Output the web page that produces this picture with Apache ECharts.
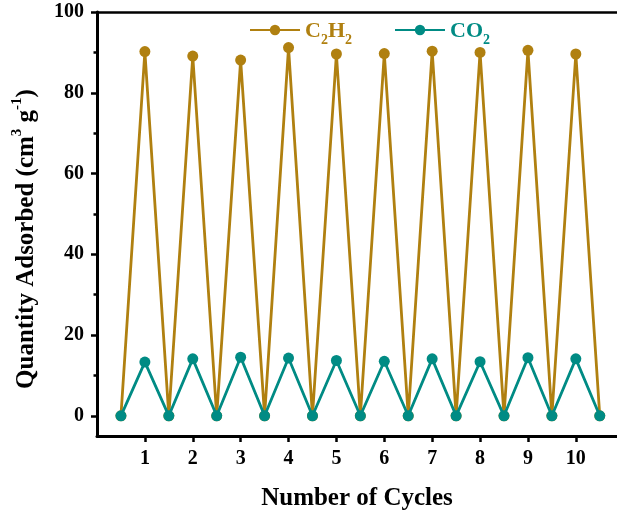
<!DOCTYPE html>
<html>
<head>
<meta charset="utf-8">
<script src="https://cdn.jsdelivr.net/npm/echarts@6/dist/echarts.min.js"></script>
<style>
html,body{margin:0;padding:0;background:#fff;}
#chart{width:617px;height:517px;}
</style>
</head>
<body>
<div id="chart"></div>
<script>
// Data
var cycleX = [0.5, 1, 1.5, 2, 2.5, 3, 3.5, 4, 4.5, 5, 5.5, 6, 6.5, 7, 7.5, 8, 8.5, 9, 9.5, 10, 10.5];
var c2h2 = [0, 90.2, 0, 89.1, 0, 88.1, 0, 91.2, 0, 89.6, 0, 89.7, 0, 90.3, 0, 90.0, 0, 90.5, 0, 89.6, 0];
var co2 = [0, 13.3, 0, 14.1, 0, 14.5, 0, 14.3, 0, 13.7, 0, 13.5, 0, 14.1, 0, 13.4, 0, 14.4, 0, 14.1, 0];
var xTicks = [1, 2, 3, 4, 5, 6, 7, 8, 9, 10];
var yTicks = [0, 20, 40, 60, 80, 100];
var yMinorTicks = [10, 30, 50, 70, 90];

var FONT = '"Liberation Serif", "Times New Roman", serif';
var GOLD = '#B08010';
var TEAL = '#008B84';

function pairs(xs, ys) { return xs.map(function (x, i) { return [x, ys[i]]; }); }

var chart = echarts.init(document.getElementById('chart'), null, {renderer: 'canvas'});
var axisLineStyle = {color: '#000', width: 3};

var option = {
  backgroundColor: '#fff',
  animation: false,
  grid: {left: 97, right: 0, top: 12, bottom: 81, containLabel: false},
  legend: {
    left: 244, top: 15,
    itemWidth: 50, itemHeight: 13, itemGap: 42,
    data: [
      {name: 'C2H2', textStyle: {color: GOLD}},
      {name: 'CO2', textStyle: {color: TEAL}}
    ],
    formatter: function (n) {
      if (n === 'C2H2') return '{a|C}{s|2}{a|H}{s|2}';
      return '{a|CO}{s|2}';
    },
    textStyle: {
      fontFamily: FONT, fontWeight: 'bold', fontSize: 22,
      rich: {
        a: {fontFamily: FONT, fontWeight: 'bold', fontSize: 22, lineHeight: 24, verticalAlign: 'bottom'},
        s: {fontFamily: FONT, fontWeight: 'bold', fontSize: 14, lineHeight: 24, verticalAlign: 'bottom', padding: [0, 0, -5, 0]}
      }
    }
  },
  xAxis: [{
    type: 'value', min: 0, max: 10.86, position: 'bottom',
    axisLine: {show: true, onZero: false, lineStyle: axisLineStyle},
    axisTick: {show: true, inside: false, length: 6, lineStyle: {color: '#000', width: 2.5}, customValues: xTicks},
    axisLabel: {show: true, customValues: xTicks, margin: 13, fontFamily: FONT, fontWeight: 'bold', fontSize: 20, color: '#000'},
    splitLine: {show: false},
    name: 'Number of Cycles', nameLocation: 'middle', nameGap: 50,
    nameTextStyle: {fontFamily: FONT, fontWeight: 'bold', fontSize: 25, color: '#000'}
  }, {
    type: 'value', min: 0, max: 10.86, position: 'top',
    axisLine: {show: true, onZero: false, lineStyle: {color: '#000', width: 2.5}},
    axisTick: {show: false}, axisLabel: {show: false}, splitLine: {show: false}
  }],
  yAxis: [{
    type: 'value', min: -5, max: 100, position: 'left',
    axisLine: {show: true, onZero: false, lineStyle: axisLineStyle},
    axisTick: {show: true, inside: false, length: 6, lineStyle: {color: '#000', width: 2.5}, customValues: yTicks},
    axisLabel: {show: true, customValues: yTicks, margin: 13, fontFamily: FONT, fontWeight: 'bold', fontSize: 20, color: '#000'},
    splitLine: {show: false},
    name: 'Quantity Adsorbed (cm{sup|3} g{sup|-1})', nameLocation: 'middle', nameGap: 58, nameRotate: 90,
    nameTextStyle: {
      fontFamily: FONT, fontWeight: 'bold', fontSize: 25, color: '#000',
      padding: [0, 30, 0, 0],
      rich: {sup: {fontFamily: FONT, fontWeight: 'bold', fontSize: 15, color: '#000', verticalAlign: 'top', padding: [-4, 0, 0, 0]}}
    }
  }, {
    type: 'value', min: -5, max: 100, position: 'left',
    axisLine: {show: false, onZero: false},
    axisTick: {show: true, inside: false, length: 3.5, lineStyle: {color: '#000', width: 2.5}, customValues: yMinorTicks},
    axisLabel: {show: false}, splitLine: {show: false}
  }],
  series: [{
    name: 'C2H2', type: 'line', xAxisIndex: 0, yAxisIndex: 0,
    data: pairs(cycleX, c2h2),
    symbol: 'circle', symbolSize: 11, showAllSymbol: true,
    lineStyle: {color: GOLD, width: 2.8}, itemStyle: {color: GOLD}, z: 2
  }, {
    name: 'CO2', type: 'line', xAxisIndex: 0, yAxisIndex: 0,
    data: pairs(cycleX, co2),
    symbol: 'circle', symbolSize: 11, showAllSymbol: true,
    lineStyle: {color: TEAL, width: 2.8}, itemStyle: {color: TEAL}, z: 3
  }]
};
chart.setOption(option);
</script>
</body>
</html>
